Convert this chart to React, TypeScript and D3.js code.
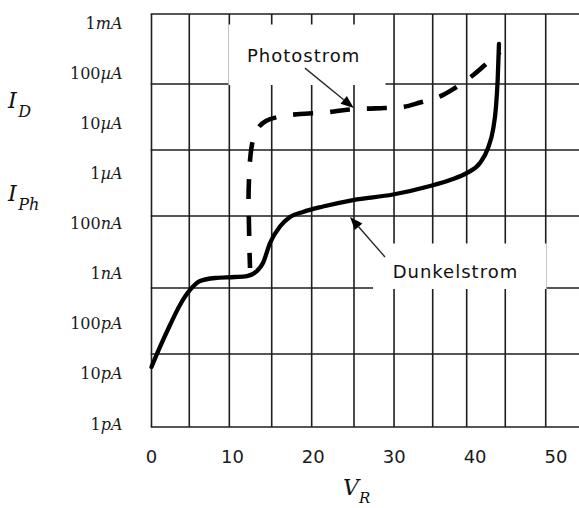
import React from 'react';
import * as d3 from 'd3';

const W = 579;
const H = 508;

// X axis: reverse voltage V_R (V)
const xTickValues = [0, 10, 20, 30, 40, 50];
const xGridValues = [0, 4.67, 9.62, 14.86, 19.8, 25.03, 29.98, 34.76, 38.96, 43.73, 48.73];

// Y axis: current (A), schematic log axis
const yTickValues = [1e-3, 1e-4, 1e-5, 1e-6, 1e-7, 1e-9, 1e-10, 1e-11, 1e-12];
const yTickNumbers = ['1', '100', '10', '1', '100', '1', '100', '10', '1'];
const yTickUnits = ['mA', 'µA', 'µA', 'µA', 'nA', 'nA', 'pA', 'pA', 'pA'];
const yGridValues = [1.51e-3, 6.07e-5, 2.92e-6, 1.41e-7, 5.16e-10, 2.49e-11, 8.7e-13];

// Dunkelstrom (dark current)
const darkV = [0, 1.05, 2.29, 3.52, 4.76, 6.0, 7.85, 10.32, 11.8, 13.04, 13.78, 14.65, 15.88, 17.12, 18.73, 21.2, 24.91, 29.86, 34.44, 36.9, 39.0, 40.6, 41.6, 42.21, 42.58, 42.79, 42.95];
const darkI = [1.37e-11, 3.44e-11, 9.44e-11, 2.37e-10, 4.71e-10, 7.11e-10, 8.17e-10, 8.55e-10, 8.95e-10, 1.27e-9, 2.65e-9, 1.67e-8, 7.59e-8, 1.35e-7, 1.7e-7, 2.18e-7, 2.94e-7, 3.79e-7, 5.6e-7, 7.38e-7, 1.02e-6, 1.61e-6, 3.21e-6, 7.33e-6, 2.11e-5, 7.29e-5, 3.81e-4];

// Photostrom (photo current)
const photoV = [12.18, 12.11, 12.05, 11.99, 12.05, 12.24, 12.55, 13.16, 14.15, 15.88, 18.36, 21.45, 23.92, 26.39, 28.86, 31.09, 33.19, 35.66, 37.52, 39.62, 41.22, 43.08];
const photoI = [1.68e-9, 8.75e-9, 8.71e-8, 2.94e-7, 7.38e-7, 2.33e-6, 4.63e-6, 8.04e-6, 1.11e-5, 1.36e-5, 1.53e-5, 1.64e-5, 1.84e-5, 1.95e-5, 2.01e-5, 2.11e-5, 2.59e-5, 3.42e-5, 5.05e-5, 8.77e-5, 1.45e-4, 2.64e-4];

// Annotations (data coordinates)
const labelNames = ['Photostrom', 'Dunkelstrom'];
const labelV = [11.8, 29.81];
const labelI = [1.69e-4, 8.1e-10];
const arrowTailV = [18.97, 28.86];
const arrowTailI = [1.26e-4, 4.6e-9];
const arrowTipV = [25.0, 24.54];
const arrowTipI = [2.01e-5, 1.35e-7];
const boxV0 = [9.52, 27.38];
const boxV1 = [28.92, 48.83];
const boxI0 = [9.33e-4, 1.59e-8];
const boxI1 = [5.79e-5, 4.93e-10];

function arrowHead(x1: number, y1: number, x2: number, y2: number, len: number, hw: number) {
  const dx = x2 - x1, dy = y2 - y1;
  const L = Math.hypot(dx, dy);
  const ux = dx / L, uy = dy / L;
  const bx = x2 - ux * len, by = y2 - uy * len;
  return {
    d: `M${x2},${y2}L${bx - uy * hw},${by + ux * hw}L${bx + uy * hw},${by - ux * hw}Z`,
    bx, by,
  };
}

export default function App() {
  const x = d3.scaleLinear().domain([0, 50]).range([151.5, 556]);
  const y = d3.scaleLog().domain([1e-12, 1e-9, 1e-7, 1e-3]).range([424, 273.6, 223.5, 23]);

  const darkLine = d3
    .line<[number, number]>()
    .x((d) => x(d[0]))
    .y((d) => y(d[1]))
    .curve(d3.curveMonotoneX);
  const photoLine = d3
    .line<[number, number]>()
    .x((d) => x(d[0]))
    .y((d) => y(d[1]))
    .curve(d3.curveCatmullRom.alpha(0.5));

  const dark: [number, number][] = darkV.map((v, i) => [v, darkI[i]]);
  const photo: [number, number][] = photoV.map((v, i) => [v, photoI[i]]);

  const gridTop = y(yGridValues[0]);
  const gridBottom = y(yGridValues[yGridValues.length - 1]);
  const gridLeft = x(xGridValues[0]);

  const gridColor = '#1e1e1e';
  const serif = 'DejaVu Serif';
  const sans = 'DejaVu Sans';

  return (
    <svg
      width={W}
      height={H}
      style={{ position: 'absolute', left: 0, top: 0, display: 'block', background: '#fff' }}
    >
      <rect width={W} height={H} fill="#fff" />
      {/* grid */}
      <g stroke={gridColor} strokeWidth={1.6}>
        {yGridValues.map((v, i) => (
          <line key={'h' + i} x1={gridLeft - 0.8} x2={W} y1={y(v)} y2={y(v)} />
        ))}
        {xGridValues.map((v, i) => (
          <line key={'v' + i} x1={x(v)} x2={x(v)} y1={gridTop} y2={gridBottom} />
        ))}
      </g>
      {/* label backgrounds */}
      {labelNames.map((n, i) => (
        <rect
          key={'b' + i}
          x={x(boxV0[i])}
          y={y(boxI0[i])}
          width={x(boxV1[i]) - x(boxV0[i])}
          height={y(boxI1[i]) - y(boxI0[i])}
          fill="#fff"
        />
      ))}
      {/* curves */}
      <path
        d={photoLine(photo) || ''}
        fill="none"
        stroke="#000"
        strokeWidth={4.6}
        strokeDasharray="20 17"
        strokeDashoffset={5}
      />
      <path d={darkLine(dark) || ''} fill="none" stroke="#000" strokeWidth={4.3} strokeLinecap="round" strokeLinejoin="round" />
      {/* arrows */}
      {labelNames.map((n, i) => {
        const x1 = x(arrowTailV[i]);
        const y1 = y(arrowTailI[i]);
        const x2 = x(arrowTipV[i]);
        const y2 = y(arrowTipI[i]);
        const h = arrowHead(x1, y1, x2, y2, 13, 5);
        return (
          <g key={'a' + i}>
            <line x1={x1} y1={y1} x2={h.bx} y2={h.by} stroke="#2a2a2a" strokeWidth={1.4} />
            <path d={h.d} fill="#000" />
          </g>
        );
      })}
      {/* annotation labels */}
      {labelNames.map((n, i) => (
        <text
          key={'l' + i}
          x={x(labelV[i])}
          y={y(labelI[i])}
          fontFamily={sans}
          fontSize={18}
          letterSpacing={1}
          fill="#111"
        >
          {n}
        </text>
      ))}
      {/* y tick labels */}
      {yTickValues.map((v, i) => (
        <text
          key={'yt' + i}
          x={122.5}
          y={y(v) + 5.5}
          textAnchor="end"
          fontFamily={serif}
          fontSize={16}
          fill="#1a1a1a"
        >
          {yTickNumbers[i]}
          <tspan fontStyle="italic">{yTickUnits[i]}</tspan>
        </text>
      ))}
      {/* x tick labels */}
      {xTickValues.map((v, i) => (
        <text
          key={'xt' + i}
          x={x(v)}
          y={462.5}
          textAnchor="middle"
          fontFamily={sans}
          fontSize={18}
          fill="#1a1a1a"
        >
          {v}
        </text>
      ))}
      {/* axis titles */}
      <text x={8} y={108} fontFamily={serif} fontStyle="italic" fontSize={22} fill="#111">
        I<tspan dx={1.5} dy={8.5} fontSize={16}>D</tspan>
      </text>
      <text x={8} y={200.7} fontFamily={serif} fontStyle="italic" fontSize={22} fill="#111">
        I<tspan dx={1.5} dy={9.3} fontSize={16}>Ph</tspan>
      </text>
      <text x={343} y={495} fontFamily={serif} fontStyle="italic" fontSize={22} fill="#111">
        V<tspan dx={0} dy={8} fontSize={15}>R</tspan>
      </text>
    </svg>
  );
}
